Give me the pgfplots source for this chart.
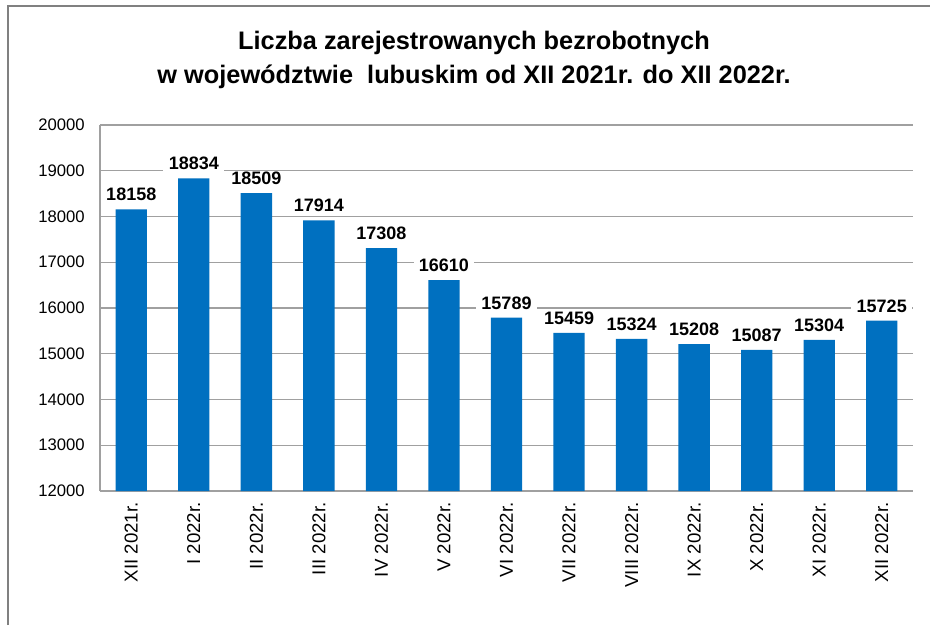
\documentclass[border=0pt]{standalone}
\usepackage{pgfplots}
\pgfplotsset{compat=1.18}
\usepackage{fontspec}
\setmainfont{Liberation Sans}
\definecolor{barblue}{RGB}{0,112,192}
\definecolor{gridgray}{RGB}{160,160,160}
\definecolor{framegray}{RGB}{128,128,128}
\begin{document}
\begin{tikzpicture}
\useasboundingbox (0,0) rectangle (697.5pt,468.75pt);
\fill[white] (0,0) rectangle (697.5pt,468.75pt);
\draw[framegray, line width=1.5pt] (6pt,0) -- (6pt,464pt) -- (697.5pt,464pt);
\node[font=\bfseries\fontsize{19}{25.5}\selectfont, align=center] at (355.5pt,423.5pt)
  {Liczba zarejestrowanych bezrobotnych\\w województwie\ \ lubuskim od XII 2021r. do XII 2022r.};
\begin{axis}[
  at={(75pt,100.5pt)}, anchor=south west,
  scale only axis, width=609.75pt, height=274.5pt,
  xmin=-0.5, xmax=12.5, ymin=12000, ymax=20000,
  ytick={12000,13000,...,20000},
  xtick={0,...,12},
  xticklabels={XII 2021r.,I 2022r.,II 2022r.,III 2022r.,IV 2022r.,V 2022r.,VI 2022r.,VII 2022r.,VIII 2022r.,IX 2022r.,X 2022r.,XI 2022r.,XII 2022r.},
  x tick label style={rotate=90, anchor=east, font=\fontsize{14}{16}\selectfont},
  y tick label style={font=\fontsize{12.5}{14}\selectfont},
  /pgf/number format/assume math mode=true,
  /pgf/number format/set thousands separator={},
  scaled y ticks=false,
  ymajorgrids, grid style={gridgray, line width=0.9pt},
  axis line style={gridgray, line width=0.9pt},
  axis x line*=bottom, axis y line*=left,
  major tick length=0pt,
  yticklabel style={xshift=-8pt},
  xticklabel style={xshift=-5pt},
  ybar, bar width=23.5pt,
  nodes near coords,
  nodes near coords style={font=\bfseries\fontsize{13.5}{15}\selectfont, fill=white, inner xsep=4pt, inner ysep=1pt, yshift=5pt},
  point meta=explicit symbolic,
  clip=false,
]
\addplot[fill=barblue, draw=none] coordinates {
(0,18158) [18158] (1,18834) [18834] (2,18509) [18509] (3,17914) [17914]
(4,17308) [17308] (5,16610) [16610] (6,15789) [15789] (7,15459) [15459]
(8,15324) [15324] (9,15208) [15208] (10,15087) [15087] (11,15304) [15304]
(12,15725) [15725]};
\end{axis}
\end{tikzpicture}
\end{document}
